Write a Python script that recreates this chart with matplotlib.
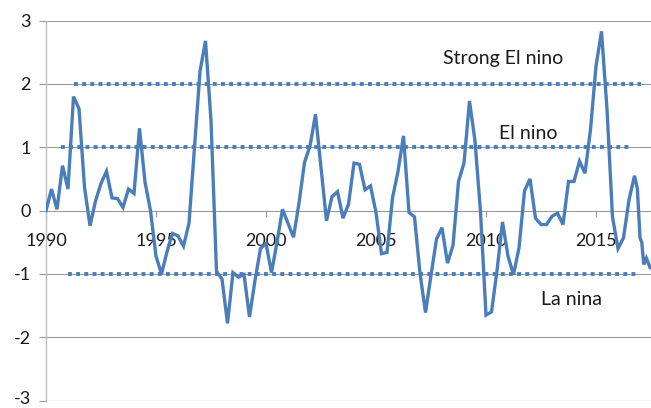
import numpy as np
import matplotlib
matplotlib.use("Agg")
import matplotlib.pyplot as plt
from matplotlib.transforms import ScaledTranslation

plt.rcParams['font.family'] = ['Lato', 'DejaVu Sans']

# Quarterly ENSO index, 1990 Q1 .. 2016 Q4, followed by the latest readings
quarter_years = np.arange(1990.0, 2016.76, 0.25)
quarter_values = [
    0.00, 0.34, 0.02, 0.71, 0.34, 1.80, 1.61, 0.37,      # 1990-1991
    -0.24, 0.15, 0.43, 0.62, 0.20, 0.19, 0.05, 0.34,     # 1992-1993
    0.27, 1.30, 0.45, 0.00, -0.72, -1.00, -0.65, -0.36,  # 1994-1995
    -0.40, -0.56, -0.20, 1.00, 2.20, 2.68, 1.42, -0.96,  # 1996-1997
    -1.08, -1.78, -0.98, -1.05, -1.01, -1.68, -1.10, -0.60,  # 1998-1999
    -0.52, -0.98, -0.50, 0.02, -0.20, -0.42, 0.12, 0.76,  # 2000-2001
    1.02, 1.52, 0.68, -0.16, 0.22, 0.30, -0.12, 0.10,    # 2002-2003
    0.75, 0.73, 0.33, 0.39, -0.03, -0.68, -0.66, 0.20,   # 2004-2005
    0.62, 1.18, -0.03, -0.10, -0.99, -1.61, -1.02, -0.45,  # 2006-2007
    -0.27, -0.83, -0.55, 0.46, 0.75, 1.73, 1.10, -0.02,  # 2008-2009
    -1.65, -1.60, -0.95, -0.18, -0.72, -1.01, -0.59, 0.31,  # 2010-2011
    0.50, -0.12, -0.22, -0.22, -0.09, -0.04, -0.22, 0.46,  # 2012-2013
    0.46, 0.78, 0.59, 1.28, 2.28, 2.83, 1.60, -0.10,     # 2014-2015
    -0.60, -0.43, 0.17, 0.55,                            # 2016
]
tail_years = [2016.88, 2017.0, 2017.08, 2017.17, 2017.29, 2017.46]
tail_values = [0.35, -0.43, -0.50, -0.85, -0.75, -0.90]

years = np.concatenate([quarter_years, tail_years])
values = np.concatenate([quarter_values, tail_values])

# Threshold reference lines: (level, start year, end year)
thresholds = [(2.0, 1991.25, 2017.05), (1.0, 1990.7, 2016.6), (-1.0, 1991.0, 2016.9)]
labels = [("Strong El nino", 2010.76, 2.4), ("El nino", 2011.9, 1.22),
          ("La nina", 2013.88, -1.41)]

xticks = [1990, 1995, 2000, 2005, 2010, 2015]
yticks = [-3, -2, -1, 0, 1, 2, 3]

blue = '#4A7EBB'
grid_grey = '#9A9A9A'

fig = plt.figure(figsize=(6.51, 4.08), dpi=100)
ax = fig.add_axes([46 / 651, 1 - 400.6 / 408, 605 / 651, 380 / 408])

ax.set_xlim(1990, 2017.5)
ax.set_ylim(-3, 3)

for y in yticks:
    if y != 0:
        ax.axhline(y, color=grid_grey, lw=0.8, zorder=1)

for level, x0, x1 in thresholds:
    ax.plot([x0, x1], [level, level], color=blue, lw=2.8,
            linestyle=(0, (1.0, 1.1)), dash_capstyle='butt', zorder=2)

ax.plot(years, values, color=blue, lw=2.4, solid_joinstyle='miter', zorder=3)

for text, x, y in labels:
    ax.text(x, y, text, ha='center', va='center', fontsize=14, color='#1a1a1a')

for side in ('top', 'right'):
    ax.spines[side].set_visible(False)
ax.spines['bottom'].set_position(('data', 0))
ax.spines['bottom'].set_color(grid_grey)
ax.spines['bottom'].set_linewidth(0.8)
ax.spines['left'].set_color('#BDBDBD')
ax.spines['left'].set_linewidth(1.0)

ax.set_xticks(xticks)
ax.set_xticklabels([str(t) for t in xticks])
ax.set_yticks(yticks)
ax.set_yticklabels([str(t) for t in yticks])
ax.tick_params(axis='x', direction='out', length=4, width=0.8, color=grid_grey,
               pad=12, labelsize=13, labelcolor='#1a1a1a')
ax.tick_params(axis='y', direction='out', length=5, width=0.8, color=grid_grey,
               pad=6, labelsize=13, labelcolor='#1a1a1a')

# keep the lowest y label inside the canvas
bottom_label = ax.yaxis.get_major_ticks()[0].label1
bottom_label.set_transform(bottom_label.get_transform()
                           + ScaledTranslation(0, 2.5 / 72, fig.dpi_scale_trans))

fig.savefig('out.png', dpi=100)
